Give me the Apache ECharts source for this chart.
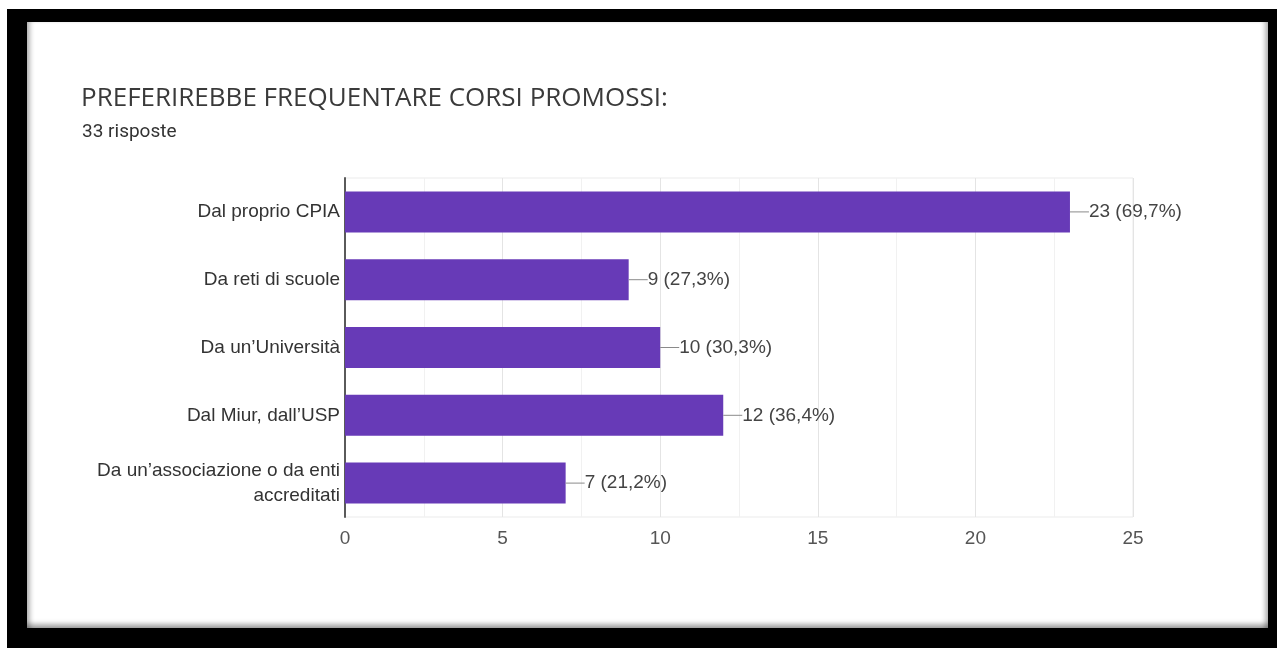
<!DOCTYPE html>
<html><head><meta charset="utf-8">
<script src="https://cdn.jsdelivr.net/npm/echarts@6/dist/echarts.min.js"></script>
<style>
html,body{margin:0;padding:0;background:#fff;width:1277px;height:648px;overflow:hidden;}
#frame{position:absolute;left:7px;top:9px;width:1270px;height:639px;background:#000;}
#panel{position:absolute;left:27px;top:22px;width:1241px;height:606px;background:#fff;box-shadow:inset 6px 0 5px -3px rgba(0,0,0,0.3), inset -6px 0 5px -3px rgba(0,0,0,0.3), inset 0 -7px 5px -3px rgba(0,0,0,0.35);}
#chart{position:absolute;left:0;top:0;width:1277px;height:648px;}
</style></head>
<body>
<div id="frame"></div><div id="panel"></div>
<div id="chart"></div>
<script>
const categories = ["Dal proprio CPIA", "Da reti di scuole", "Da un\u2019Università", "Dal Miur, dall\u2019USP", "Da un\u2019associazione o da enti\naccreditati"];
const counts = [23, 9, 10, 12, 7];
const percents = ["69,7%", "27,3%", "30,3%", "36,4%", "21,2%"];
const xTicks = [0, 5, 10, 15, 20, 25];
const titleText = "PREFERIREBBE FREQUENTARE CORSI PROMOSSI:";
const subText = "33 risposte";

const chart = echarts.init(document.getElementById('chart'), null, {renderer: 'canvas'});
chart.setOption({
  backgroundColor: 'transparent',
  animation: false,
  title: [{
    text: titleText, left: 81, top: 86, padding: 0,
    textStyle: {fontFamily: 'Open Sans', fontSize: 26, fontWeight: 'normal', color: '#3a3a3a'}
  }, {
    text: subText, left: 82, top: 123, padding: 0,
    textStyle: {fontFamily: 'Roboto', fontSize: 19, fontWeight: 'normal', color: '#333'}
  }],
  grid: {left: 345, right: 1277 - 1133, top: 178, bottom: 648 - 517, show: true, borderColor: '#ebebeb', borderWidth: 1, containLabel: false},
  xAxis: {
    type: 'value', min: xTicks[0], max: xTicks[xTicks.length - 1], interval: 5,
    axisLine: {show: false}, axisTick: {show: false},
    axisLabel: {fontFamily: 'Liberation Sans', fontSize: 19, color: '#555', margin: 12},
    splitLine: {lineStyle: {color: '#e4e4e4', width: 1}},
    minorTick: {show: false, splitNumber: 2},
    minorSplitLine: {show: true, lineStyle: {color: '#f1f1f1', width: 1}}
  },
  yAxis: {
    type: 'category', data: categories, inverse: true,
    axisLine: {show: true, lineStyle: {color: '#5a5a5a', width: 2}},
    axisTick: {show: false},
    axisLabel: {fontFamily: 'Liberation Sans', fontSize: 19, color: '#333', margin: 5, lineHeight: 25, align: 'right'}
  },
  series: [{
    type: 'bar', data: counts, barWidth: 41,
    itemStyle: {color: '#673ab7'},
    label: {
      show: true, position: 'right', distance: 0,
      formatter: p => '{l|}{v|' + counts[p.dataIndex] + ' (' + percents[p.dataIndex] + ')}',
      rich: {
        l: {width: 19, height: 1, backgroundColor: '#8a8a8a', verticalAlign: 'middle'},
        v: {fontFamily: 'Liberation Sans', fontSize: 19, color: '#444', verticalAlign: 'middle'}
      }
    }
  }]
});
</script>
</body></html>
